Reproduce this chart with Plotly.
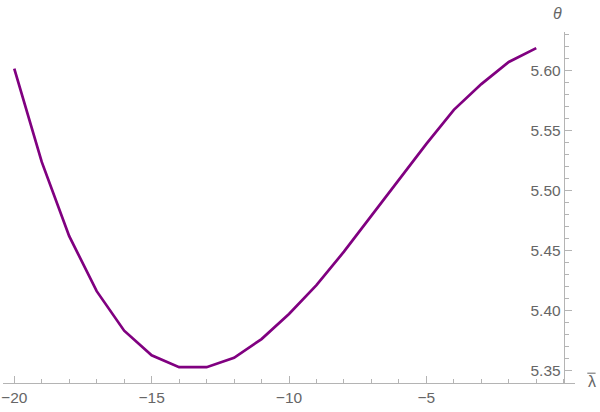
import plotly.graph_objects as go

# lambda-bar values and theta
lam = [-20, -19, -18, -17, -16, -15, -14, -13, -12, -11,
       -10, -9, -8, -7, -6, -5, -4, -3, -2, -1]
theta = [5.602, 5.524, 5.462, 5.416, 5.383, 5.3625, 5.3525, 5.3525, 5.3603, 5.376,
         5.397, 5.421, 5.449, 5.479, 5.509, 5.539, 5.5675, 5.589, 5.6075, 5.619]

x_ticks = [-20, -15, -10, -5]
x_labels = ["\u221220", "\u221215", "\u221210", "\u22125"]
y_ticks = [5.35, 5.40, 5.45, 5.50, 5.55, 5.60]
y_labels = ["5.35", "5.40", "5.45", "5.50", "5.55", "5.60"]

x_range = [-20.41, 0.41]
y_range = [5.3393, 5.6325]
axis_col = "#b4b4b4"
text_col = "#666666"
font = "Liberation Sans, Arial, sans-serif"

fig = go.Figure()
fig.add_trace(go.Scatter(
    x=lam, y=theta, mode="lines",
    line=dict(color="#800080", width=2.7),
    hoverinfo="skip", showlegend=False
))

# y axis sits at lambda = 0
y_pos = (0 - x_range[0]) / (x_range[1] - x_range[0])

fig.update_layout(
    width=600, height=412,
    margin=dict(l=3, r=25, t=32, b=28.5, autoexpand=False),
    paper_bgcolor="white", plot_bgcolor="white",
    font=dict(family=font, size=15, color=text_col),
    xaxis=dict(
        range=x_range, showgrid=False, zeroline=False, automargin=False,
        showline=True, linecolor=axis_col, linewidth=1,
        tickmode="array", tickvals=x_ticks, ticktext=x_labels,
        ticks="inside", ticklen=7, tickcolor=axis_col, tickwidth=1,
        minor=dict(dtick=1, ticks="inside", ticklen=4, tickcolor=axis_col, showgrid=False),
        tickfont=dict(size=15.5, color=text_col),
    ),
    yaxis=dict(
        range=y_range, showgrid=False, zeroline=False, automargin=False,
        anchor="free", position=y_pos, side="left",
        showline=True, linecolor=axis_col, linewidth=1,
        tickmode="array", tickvals=y_ticks, ticktext=y_labels,
        ticks="inside", ticklen=7, tickcolor=axis_col, tickwidth=1,
        minor=dict(dtick=0.01, tick0=5.35, ticks="inside", ticklen=4, tickcolor=axis_col, showgrid=False),
        tickfont=dict(size=15.5, color=text_col),
    ),
)

fig.add_annotation(
    x=y_pos, y=1, xref="paper", yref="paper", yshift=29,
    text="<i>\u03b8</i>", showarrow=False,
    font=dict(family=font, size=16, color=text_col),
)
# lambda with a bar drawn over it
fig.add_annotation(
    x=1, y=0, xref="paper", yref="paper", xanchor="center", xshift=17, yshift=-9,
    text="\u03bb", showarrow=False,
    font=dict(family=font, size=16, color=text_col),
)
fig.add_shape(
    type="line", xref="paper", yref="paper",
    x0=1.0215, x1=1.036, y0=0.028, y1=0.028,
    line=dict(color=text_col, width=1),
)

# drop the default page margin so the figure sits at the window's corner
fig.write_html("out.html", config={"displayModeBar": False},
               post_script="document.body.style.margin='0';")
